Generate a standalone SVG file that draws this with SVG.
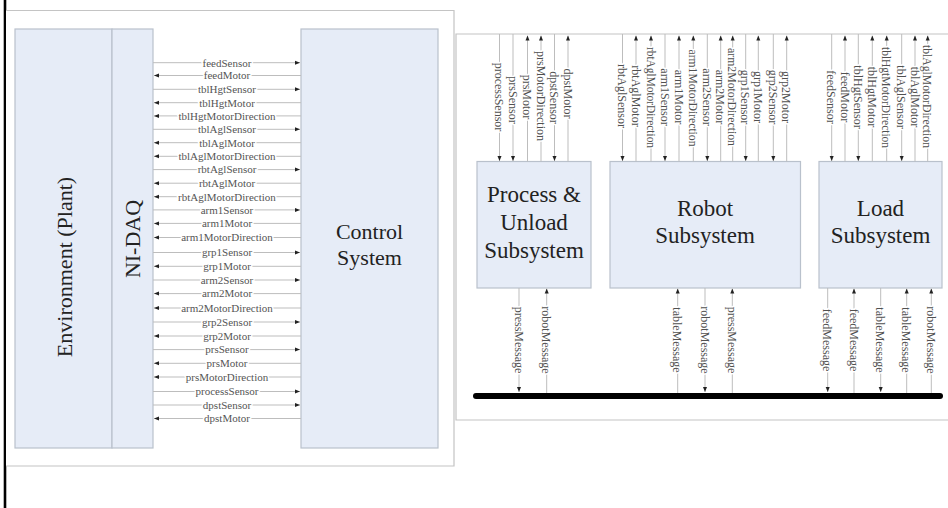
<svg xmlns="http://www.w3.org/2000/svg" width="948" height="508" viewBox="0 0 948 508">
<style>
.panel{fill:#fff;stroke:#c4c4c4;stroke-width:1.2}
.box{fill:#e6ecf7;stroke:#b9c1cc;stroke-width:1.2}
.big{font-family:"Liberation Serif","Times New Roman",serif;font-size:22px;fill:#222;text-anchor:middle}
.sig{font-family:"Liberation Serif","Times New Roman",serif;font-size:11px;fill:#555;text-anchor:middle;stroke:#fff;stroke-width:3;paint-order:stroke;stroke-linejoin:round}
.vsig{font-family:"Liberation Serif","Times New Roman",serif;font-size:12px;fill:#505050;text-anchor:middle;stroke:#fff;stroke-width:3;paint-order:stroke;stroke-linejoin:round}
.c{stroke:#bdbdbd;stroke-width:1;fill:none}
.a{marker-end:url(#ah)}
</style>
<defs>
<marker id="ah" markerUnits="userSpaceOnUse" markerWidth="5" markerHeight="5" viewBox="0 0 10 10" refX="10" refY="5" orient="auto">
<path d="M0,1 L10,5 L0,9 z" fill="#222"/>
</marker>
</defs>
<rect x="0" y="0" width="948" height="508" fill="#fff"/>
<line x1="5" y1="0" x2="5" y2="508" stroke="#000" stroke-width="2.6"/>
<path class="panel" d="M6,10.5 H454 V466 H6"/>
<path class="panel" d="M948,34 H456 V420 H948"/>

<g id="environment"><rect class="box" x="15" y="29" width="97" height="419"/>
<text class="big" transform="translate(72,267) rotate(-90)">Environment (Plant)</text></g>
<g id="nidaq"><rect class="box" x="112" y="29" width="41" height="419"/>
<text class="big" transform="translate(140,239) rotate(-90)">NI-DAQ</text></g>
<g id="control"><rect class="box" x="301" y="29" width="137" height="419"/>
<text class="big" x="369.5" y="239">Control</text><text class="big" x="369.5" y="265">System</text></g>

<g id="process"><rect class="box" x="477" y="161.5" width="114" height="126.5"/>
<text class="big" x="534" y="202" style="font-size:23px">Process &amp;</text>
<text class="big" x="534" y="230" style="font-size:23px">Unload</text>
<text class="big" x="534" y="258" style="font-size:23px">Subsystem</text></g>
<g id="robot"><rect class="box" x="610" y="161.5" width="190.5" height="126.5"/>
<text class="big" x="705" y="216" style="font-size:23px">Robot</text>
<text class="big" x="705" y="243" style="font-size:23px">Subsystem</text></g>
<g id="load"><rect class="box" x="819" y="161.5" width="123" height="126.5"/>
<text class="big" x="880.5" y="216" style="font-size:23px">Load</text>
<text class="big" x="880.5" y="243" style="font-size:23px">Subsystem</text></g>
<g id="bus"><line x1="476" y1="396" x2="940" y2="396" stroke="#000" stroke-width="6" stroke-linecap="round"/></g>

<g id="connectors">
<line class="c a" x1="153" y1="62.7" x2="300" y2="62.7"/><text class="sig" x="227" y="66.5">feedSensor</text>
<line class="c a" x1="301" y1="75.5" x2="154" y2="75.5"/><text class="sig" x="227" y="79.3">feedMotor</text>
<line class="c a" x1="153" y1="89.3" x2="300" y2="89.3"/><text class="sig" x="227" y="93.1">tblHgtSensor</text>
<line class="c a" x1="301" y1="102.7" x2="154" y2="102.7"/><text class="sig" x="227" y="106.5">tblHgtMotor</text>
<line class="c a" x1="301" y1="115.9" x2="154" y2="115.9"/><text class="sig" x="227" y="119.7">tblHgtMotorDirection</text>
<line class="c a" x1="153" y1="129.3" x2="300" y2="129.3"/><text class="sig" x="227" y="133.1">tblAglSensor</text>
<line class="c a" x1="301" y1="142.7" x2="154" y2="142.7"/><text class="sig" x="227" y="146.5">tblAglMotor</text>
<line class="c a" x1="301" y1="156.3" x2="154" y2="156.3"/><text class="sig" x="227" y="160.1">tblAglMotorDirection</text>
<line class="c a" x1="153" y1="169.6" x2="300" y2="169.6"/><text class="sig" x="227" y="173.4">rbtAglSensor</text>
<line class="c a" x1="301" y1="183.2" x2="154" y2="183.2"/><text class="sig" x="227" y="187">rbtAglMotor</text>
<line class="c a" x1="301" y1="196.7" x2="154" y2="196.7"/><text class="sig" x="227" y="200.5">rbtAglMotorDirection</text>
<line class="c a" x1="153" y1="209.9" x2="300" y2="209.9"/><text class="sig" x="227" y="213.7">arm1Sensor</text>
<line class="c a" x1="301" y1="223.4" x2="154" y2="223.4"/><text class="sig" x="227" y="227.2">arm1Motor</text>
<line class="c a" x1="301" y1="237.5" x2="154" y2="237.5"/><text class="sig" x="227" y="241.3">arm1MotorDirection</text>
<line class="c a" x1="153" y1="252.5" x2="300" y2="252.5"/><text class="sig" x="227" y="256.3">grp1Sensor</text>
<line class="c a" x1="301" y1="266.3" x2="154" y2="266.3"/><text class="sig" x="227" y="270.1">grp1Motor</text>
<line class="c a" x1="153" y1="280" x2="300" y2="280"/><text class="sig" x="227" y="283.8">arm2Sensor</text>
<line class="c a" x1="301" y1="293.6" x2="154" y2="293.6"/><text class="sig" x="227" y="297.4">arm2Motor</text>
<line class="c a" x1="301" y1="308" x2="154" y2="308"/><text class="sig" x="227" y="311.8">arm2MotorDirection</text>
<line class="c a" x1="153" y1="322" x2="300" y2="322"/><text class="sig" x="227" y="325.8">grp2Sensor</text>
<line class="c a" x1="301" y1="336" x2="154" y2="336"/><text class="sig" x="227" y="339.8">grp2Motor</text>
<line class="c a" x1="153" y1="349.6" x2="300" y2="349.6"/><text class="sig" x="227" y="353.4">prsSensor</text>
<line class="c a" x1="301" y1="363.3" x2="154" y2="363.3"/><text class="sig" x="227" y="367.1">prsMotor</text>
<line class="c a" x1="301" y1="377" x2="154" y2="377"/><text class="sig" x="227" y="380.8">prsMotorDirection</text>
<line class="c a" x1="153" y1="391.5" x2="300" y2="391.5"/><text class="sig" x="227" y="395.3">processSensor</text>
<line class="c a" x1="153" y1="405" x2="300" y2="405"/><text class="sig" x="227" y="408.8">dpstSensor</text>
<line class="c a" x1="301" y1="418.5" x2="154" y2="418.5"/><text class="sig" x="227" y="422.3">dpstMotor</text>

<line class="c a" x1="499.5" y1="34" x2="499.5" y2="161"/><text class="vsig" transform="translate(499.5,97) rotate(90)" dy="0.35em">processSensor</text>
<line class="c a" x1="513" y1="34" x2="513" y2="161"/><text class="vsig" transform="translate(513,100) rotate(90)" dy="0.35em">prsSensor</text>
<line class="c a" x1="527.5" y1="161.5" x2="527.5" y2="35.5"/><text class="vsig" transform="translate(527.5,97) rotate(90)" dy="0.35em">prsMotor</text>
<line class="c a" x1="541" y1="161.5" x2="541" y2="35.5"/><text class="vsig" transform="translate(541,96) rotate(90)" dy="0.35em">prsMotorDirection</text>
<line class="c a" x1="554.5" y1="34" x2="554.5" y2="161"/><text class="vsig" transform="translate(554.5,97.5) rotate(90)" dy="0.35em">dpstSensor</text>
<line class="c a" x1="568" y1="161.5" x2="568" y2="35.5"/><text class="vsig" transform="translate(568,93.5) rotate(90)" dy="0.35em">dpstMotor</text>
<line class="c a" x1="622.5" y1="34" x2="622.5" y2="161"/><text class="vsig" transform="translate(622.5,96) rotate(90)" dy="0.35em">rbtAglSensor</text>
<line class="c a" x1="636" y1="161.5" x2="636" y2="35.5"/><text class="vsig" transform="translate(636,96) rotate(90)" dy="0.35em">rbtAglMotor</text>
<line class="c a" x1="651" y1="161.5" x2="651" y2="35.5"/><text class="vsig" transform="translate(651,97.5) rotate(90)" dy="0.35em" textLength="101" lengthAdjust="spacingAndGlyphs">rbtAglMotorDirection</text>
<line class="c a" x1="665" y1="34" x2="665" y2="161"/><text class="vsig" transform="translate(665,97) rotate(90)" dy="0.35em">arm1Sensor</text>
<line class="c a" x1="679" y1="161.5" x2="679" y2="35.5"/><text class="vsig" transform="translate(679,97) rotate(90)" dy="0.35em">arm1Motor</text>
<line class="c a" x1="693.3" y1="161.5" x2="693.3" y2="35.5"/><text class="vsig" transform="translate(693.3,98) rotate(90)" dy="0.35em" textLength="97" lengthAdjust="spacingAndGlyphs">arm1MotorDirection</text>
<line class="c a" x1="707.3" y1="34" x2="707.3" y2="161"/><text class="vsig" transform="translate(707.3,97) rotate(90)" dy="0.35em">arm2Sensor</text>
<line class="c a" x1="720.7" y1="161.5" x2="720.7" y2="35.5"/><text class="vsig" transform="translate(720.7,97) rotate(90)" dy="0.35em">arm2Motor</text>
<line class="c a" x1="732.7" y1="161.5" x2="732.7" y2="35.5"/><text class="vsig" transform="translate(732.7,97) rotate(90)" dy="0.35em" textLength="98" lengthAdjust="spacingAndGlyphs">arm2MotorDirection</text>
<line class="c a" x1="745.7" y1="34" x2="745.7" y2="161"/><text class="vsig" transform="translate(745.7,97) rotate(90)" dy="0.35em">grp1Sensor</text>
<line class="c a" x1="758.3" y1="161.5" x2="758.3" y2="35.5"/><text class="vsig" transform="translate(758.3,97) rotate(90)" dy="0.35em">grp1Motor</text>
<line class="c a" x1="773.3" y1="34" x2="773.3" y2="161"/><text class="vsig" transform="translate(773.3,97) rotate(90)" dy="0.35em">grp2Sensor</text>
<line class="c a" x1="786.7" y1="161.5" x2="786.7" y2="35.5"/><text class="vsig" transform="translate(786.7,97) rotate(90)" dy="0.35em">grp2Motor</text>
<line class="c a" x1="831.7" y1="34" x2="831.7" y2="161"/><text class="vsig" transform="translate(831.7,97) rotate(90)" dy="0.35em">feedSensor</text>
<line class="c a" x1="845" y1="161.5" x2="845" y2="35.5"/><text class="vsig" transform="translate(845,97) rotate(90)" dy="0.35em">feedMotor</text>
<line class="c a" x1="858.3" y1="34" x2="858.3" y2="161"/><text class="vsig" transform="translate(858.3,97) rotate(90)" dy="0.35em">tblHgtSensor</text>
<line class="c a" x1="872.3" y1="161.5" x2="872.3" y2="35.5"/><text class="vsig" transform="translate(872.3,97) rotate(90)" dy="0.35em">tblHgtMotor</text>
<line class="c a" x1="886.7" y1="161.5" x2="886.7" y2="35.5"/><text class="vsig" transform="translate(886.7,97.5) rotate(90)" dy="0.35em" textLength="101" lengthAdjust="spacingAndGlyphs">tblHgtMotorDirection</text>
<line class="c a" x1="901.7" y1="34" x2="901.7" y2="161"/><text class="vsig" transform="translate(901.7,97) rotate(90)" dy="0.35em">tblAglSensor</text>
<line class="c a" x1="915" y1="161.5" x2="915" y2="35.5"/><text class="vsig" transform="translate(915,97) rotate(90)" dy="0.35em">tblAglMotor</text>
<line class="c a" x1="927.7" y1="161.5" x2="927.7" y2="35.5"/><text class="vsig" transform="translate(927.7,96.5) rotate(90)" dy="0.35em" textLength="103" lengthAdjust="spacingAndGlyphs">tblAglMotorDirection</text>
<line class="c a" x1="519" y1="288" x2="519" y2="392"/><text class="vsig" transform="translate(519,340) rotate(90)" dy="0.35em">pressMessage</text>
<line class="c a" x1="546.7" y1="393" x2="546.7" y2="288.5"/><text class="vsig" transform="translate(546.7,340) rotate(90)" dy="0.35em">robotMessage</text>
<line class="c a" x1="677.7" y1="393" x2="677.7" y2="288.5"/><text class="vsig" transform="translate(677.7,340) rotate(90)" dy="0.35em">tableMessage</text>
<line class="c a" x1="705" y1="288" x2="705" y2="392"/><text class="vsig" transform="translate(705,340) rotate(90)" dy="0.35em">robotMessage</text>
<line class="c a" x1="732.3" y1="393" x2="732.3" y2="288.5"/><text class="vsig" transform="translate(732.3,340) rotate(90)" dy="0.35em">pressMessage</text>
<line class="c a" x1="827.7" y1="288" x2="827.7" y2="392"/><text class="vsig" transform="translate(827.7,340) rotate(90)" dy="0.35em">feedMessage</text>
<line class="c a" x1="854" y1="393" x2="854" y2="288.5"/><text class="vsig" transform="translate(854,340) rotate(90)" dy="0.35em">feedMessage</text>
<line class="c a" x1="880.7" y1="288" x2="880.7" y2="392"/><text class="vsig" transform="translate(880.7,340) rotate(90)" dy="0.35em">tableMessage</text>
<line class="c a" x1="906.7" y1="393" x2="906.7" y2="288.5"/><text class="vsig" transform="translate(906.7,340) rotate(90)" dy="0.35em">tableMessage</text>
<line class="c a" x1="931.3" y1="393" x2="931.3" y2="288.5"/><text class="vsig" transform="translate(931.3,340) rotate(90)" dy="0.35em">robotMessage</text>
</g>
</svg>
